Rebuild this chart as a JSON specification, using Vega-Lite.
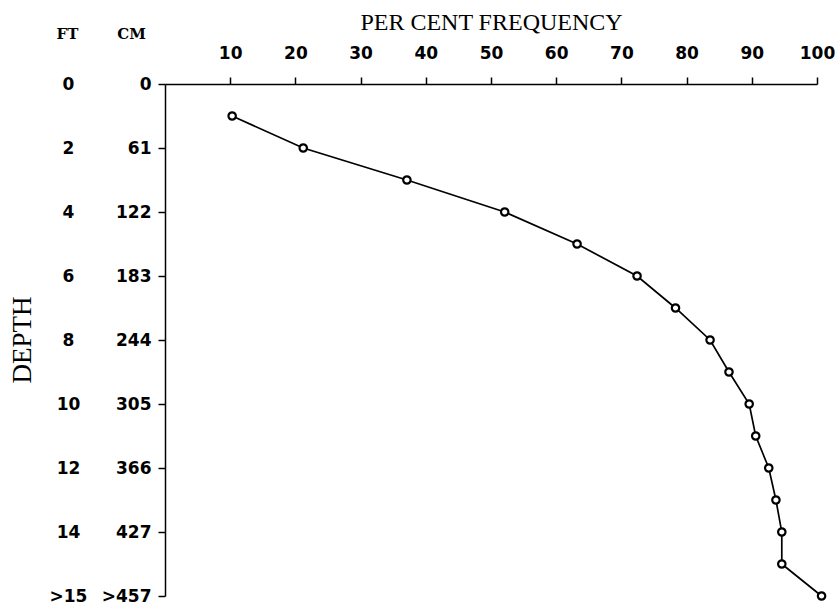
{
  "$schema": "https://vega.github.io/schema/vega-lite/v6.json",
  "width": 652,
  "height": 512,
  "autosize": "none",
  "padding": {"left": 165, "top": 84, "right": 19, "bottom": 8},
  "background": "white",
  "title": {
    "text": "DEPTH",
    "orient": "left",
    "anchor": "middle",
    "font": "Liberation Serif",
    "fontSize": 27,
    "fontWeight": "normal",
    "color": "black",
    "offset": 12
  },
  "data": {
    "values": [
      {"depth_ft": 1, "freq": 10.3},
      {"depth_ft": 2, "freq": 21.2},
      {"depth_ft": 3, "freq": 37.1},
      {"depth_ft": 4, "freq": 52.1},
      {"depth_ft": 5, "freq": 63.2},
      {"depth_ft": 6, "freq": 72.4},
      {"depth_ft": 7, "freq": 78.3},
      {"depth_ft": 8, "freq": 83.6},
      {"depth_ft": 9, "freq": 86.5},
      {"depth_ft": 10, "freq": 89.6},
      {"depth_ft": 11, "freq": 90.6},
      {"depth_ft": 12, "freq": 92.6},
      {"depth_ft": 13, "freq": 93.7},
      {"depth_ft": 14, "freq": 94.6},
      {"depth_ft": 15, "freq": 94.6},
      {"depth_ft": 16, "freq": 100.7}
    ]
  },
  "config": {
    "view": {"stroke": null},
    "axis": {
      "domainColor": "black",
      "domainWidth": 1.5,
      "tickColor": "black",
      "tickWidth": 1.5,
      "grid": false,
      "labelColor": "black",
      "labelFont": "DejaVu Sans",
      "labelFontSize": 17,
      "labelFontWeight": "bold",
      "titleColor": "black"
    }
  },
  "encoding": {
    "x": {
      "field": "freq",
      "type": "quantitative",
      "scale": {"domain": [0, 100], "nice": false, "zero": true},
      "axis": {
        "orient": "top",
        "values": [10, 20, 30, 40, 50, 60, 70, 80, 90, 100],
        "tickSize": 7,
        "labelPadding": 15,
        "labelFlush": false,
        "title": "PER CENT FREQUENCY",
        "titleFont": "Liberation Serif",
        "titleFontSize": 24,
        "titleFontWeight": "normal",
        "titlePadding": 10
      }
    },
    "y": {
      "field": "depth_ft",
      "type": "quantitative",
      "scale": {"domain": [0, 16], "nice": false, "reverse": true}
    }
  },
  "layer": [
    {
      "mark": {"type": "line", "color": "black", "strokeWidth": 1.7},
      "encoding": {
        "y": {
          "field": "depth_ft",
          "type": "quantitative",
          "scale": {"domain": [0, 16], "nice": false, "reverse": true},
          "axis": {
            "orient": "left",
            "values": [0, 2, 4, 6, 8, 10, 12, 14, 16],
            "labelExpr": "datum.value == 16 ? '>457' : format(round(datum.value * 30.48), 'd')",
            "tickSize": 7,
            "labelPadding": 7,
            "labelAlign": "right",
            "labelBaseline": "middle",
            "labelFlush": false,
            "title": "CM",
            "titleAngle": 0,
            "titleX": -34,
            "titleY": -51,
            "titleAlign": "center",
            "titleBaseline": "middle",
            "titleFont": "DejaVu Serif",
            "titleFontSize": 15,
            "titleFontWeight": "bold"
          }
        }
      }
    },
    {
      "mark": {"type": "point", "shape": "circle", "filled": false, "color": "black", "fill": "white", "fillOpacity": 1, "strokeWidth": 2.2, "size": 55, "opacity": 1},
      "encoding": {
        "y": {
          "field": "depth_ft",
          "type": "quantitative",
          "scale": {"domain": [0, 16], "nice": false, "reverse": true},
          "axis": {
            "orient": "left",
            "values": [0, 2, 4, 6, 8, 10, 12, 14, 16],
            "labelExpr": "datum.value == 16 ? '>15' : format(datum.value, 'd')",
            "domain": false,
            "ticks": false,
            "tickSize": 0,
            "labelPadding": 97,
            "labelAlign": "center",
            "labelBaseline": "middle",
            "labelFlush": false,
            "title": "FT",
            "titleAngle": 0,
            "titleX": -98,
            "titleY": -51,
            "titleAlign": "center",
            "titleBaseline": "middle",
            "titleFont": "DejaVu Serif",
            "titleFontSize": 15,
            "titleFontWeight": "bold"
          }
        }
      }
    }
  ],
  "resolve": {"axis": {"y": "independent"}}
}
